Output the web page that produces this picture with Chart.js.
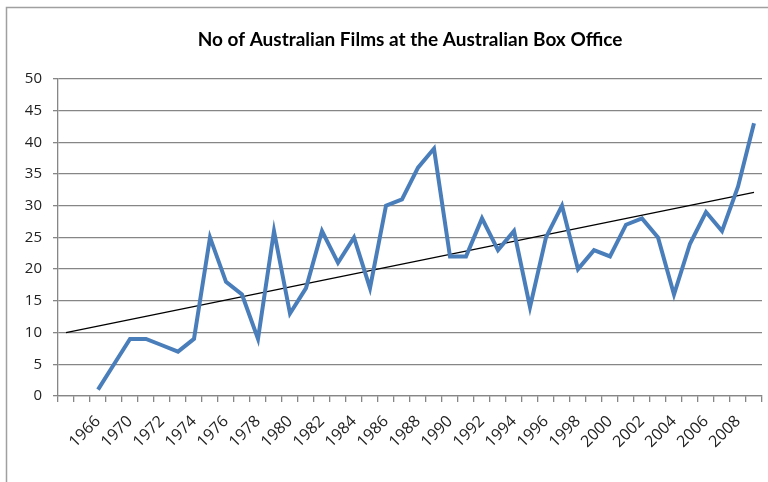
<!DOCTYPE html>
<html>
<head>
<meta charset="utf-8">
<script src="https://cdn.jsdelivr.net/npm/chart.js@4.4.1/dist/chart.umd.min.js"></script>
<style>
  html, body { margin: 0; padding: 0; background: #fff; overflow: hidden; }
  #wrap { width: 768px; height: 482px; }
  canvas { display: block; }
</style>
</head>
<body>
<div id="wrap"><canvas id="filmsChart" width="768" height="482"></canvas></div>
<script>
// categories (first two slots are empty in the source sheet)
const years = ['', '', '1966', '1969', '1970', '1971', '1972', '1973', '1974', '1975',
  '1976', '1977', '1978', '1979', '1980', '1981', '1982', '1983', '1984', '1985',
  '1986', '1987', '1988', '1989', '1990', '1991', '1992', '1993', '1994', '1995',
  '1996', '1997', '1998', '1999', '2000', '2001', '2002', '2003', '2004', '2005',
  '2006', '2007', '2008', '2009'];

// number of Australian films per year
const filmCounts = [null, null, 1, 5, 9, 9, 8, 7, 9, 25,
  18, 16, 9, 26, 13, 17, 26, 21, 25, 17,
  30, 31, 36, 39, 22, 22, 28, 23, 26, 14,
  25, 30, 20, 23, 22, 27, 28, 25, 16, 24,
  29, 26, 33, 43];

// linear trend line, read at the first and last category
const trendStart = 10;
const trendEnd = 32.1;

const yTicks = [0, 5, 10, 15, 20, 25, 30, 35, 40, 45, 50];

const trendValues = years.map((y, i) => i === 0 ? trendStart : (i === years.length - 1 ? trendEnd : null));

// grey frame around the whole chart, like the Excel chart border
const frame = {
  id: 'frame',
  beforeDraw(chart) {
    const ctx = chart.ctx;
    ctx.save();
    ctx.strokeStyle = '#a0a0a0';
    ctx.lineWidth = 1.5;
    ctx.strokeRect(6.5, 7.5, 800, 520);
    ctx.restore();
  }
};

const ctx = document.getElementById('filmsChart').getContext('2d');
new Chart(ctx, {
  type: 'line',
  data: {
    labels: years,
    datasets: [
      {
        label: 'Films',
        data: filmCounts,
        borderColor: '#4a7ebb',
        borderWidth: 4,
        pointRadius: 0,
        tension: 0,
        borderJoinStyle: 'miter'
      },
      {
        label: 'Linear trend',
        data: trendValues,
        borderColor: '#000',
        borderWidth: 1.3,
        pointRadius: 0,
        spanGaps: true
      }
    ]
  },
  options: {
    responsive: false,
    animation: false,
    layout: { padding: { left: 0, right: 6, top: 0, bottom: 0 } },
    plugins: {
      legend: { display: false },
      tooltip: { enabled: false },
      title: {
        display: true,
        text: 'No of Australian Films at the Australian Box Office',
        color: '#000',
        fullSize: false,
        font: { family: 'Lato', size: 19, weight: 'bold' },
        padding: { top: 28, bottom: 28 }
      }
    },
    scales: {
      x: {
        offset: true,
        grid: {
          offset: true,
          drawOnChartArea: false,
          color: '#868686',
          tickLength: 6,
          lineWidth: 1.3
        },
        border: { color: '#868686', width: 1.3 },
        ticks: {
          autoSkip: false,
          minRotation: 45,
          maxRotation: 45,
          padding: 10,
          color: '#222',
          font: { family: 'Open Sans', size: 16 },
          callback: function (value, index) {
            return index % 2 === 0 ? years[index] : '';
          }
        },
        afterFit(scale) {
          scale.height = 86;
          scale.paddingRight = 0;
        }
      },
      y: {
        min: 0,
        max: 50,
        afterBuildTicks(scale) { scale.ticks = yTicks.map(v => ({ value: v })); },
        grid: { color: '#868686', tickLength: 5, lineWidth: 1.3 },
        border: { color: '#868686', width: 1.3 },
        ticks: {
          padding: 11,
          color: '#222',
          font: { family: 'Open Sans', size: 15 }
        },
        afterFit(scale) { scale.width = 58; }
      }
    }
  },
  plugins: [frame]
});
</script>
</body>
</html>
